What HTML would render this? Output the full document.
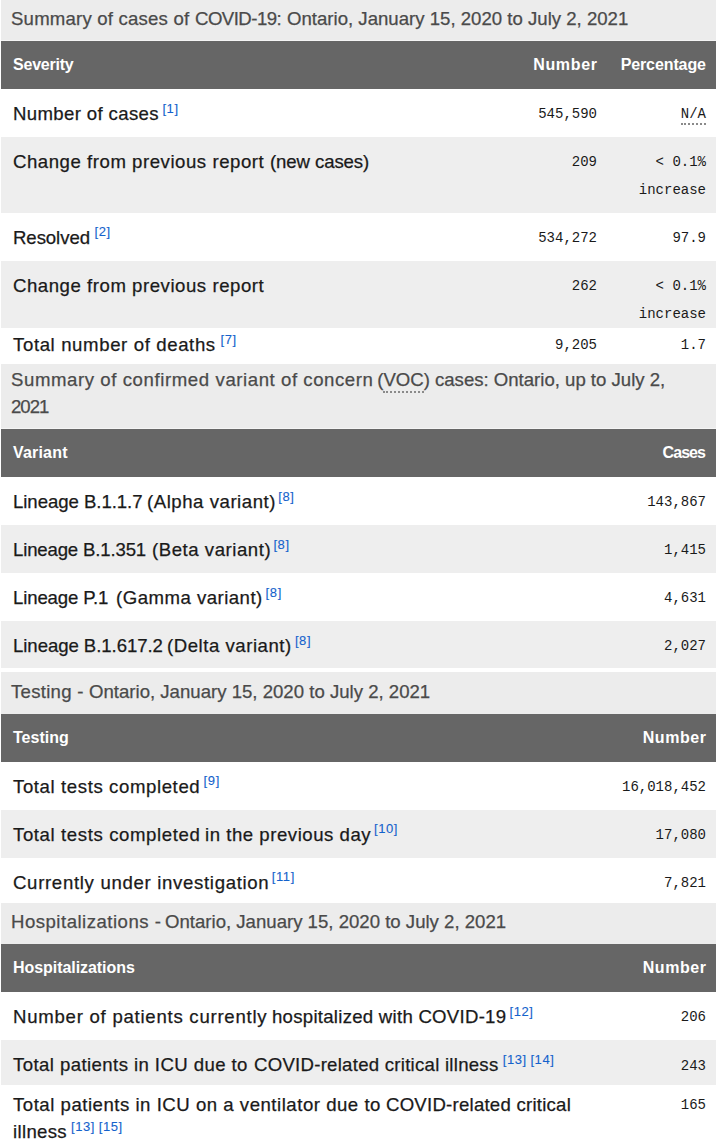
<!DOCTYPE html>
<html><head><meta charset="utf-8"><style>
html,body{margin:0;padding:0;background:#fff;}
body{width:716px;height:1147px;position:relative;overflow:hidden;font-family:"Liberation Sans", sans-serif;}
.t,.m,.s{position:absolute;white-space:pre;}
.t{-webkit-text-stroke:0.25px currentColor;}
.c{-webkit-text-stroke:0.25px currentColor;}
.h{-webkit-text-stroke:0.0px currentColor;}
.m{font-family:"Liberation Mono", monospace;color:#1a1a1a;-webkit-text-stroke:0.0px currentColor;}
.s{color:#1462cc;letter-spacing:0.6px;-webkit-text-stroke:0.1px currentColor;}
.abbr{border-bottom:2px dotted #8a8a8a;padding-bottom:1px;}
.abbr2{border-bottom:2px dotted #8a8a8a;padding-bottom:1px;}
</style></head><body>
<div style="position:absolute;left:1px;right:0;top:0px;height:40px;background:#ececec"></div>
<div style="position:absolute;left:1px;right:0;top:40px;height:1px;background:#f5f5f5"></div>
<div style="position:absolute;left:1px;right:0;top:41px;height:48px;background:#666666"></div>
<div style="position:absolute;left:1px;right:0;top:89px;height:48px;background:#fff"></div>
<div style="position:absolute;left:1px;right:0;top:137px;height:76px;background:#eeeeee"></div>
<div style="position:absolute;left:1px;right:0;top:213px;height:48px;background:#fff"></div>
<div style="position:absolute;left:1px;right:0;top:261px;height:67px;background:#eeeeee"></div>
<div style="position:absolute;left:1px;right:0;top:328px;height:36px;background:#fff"></div>
<div style="position:absolute;left:1px;right:0;top:364px;height:64px;background:#ececec"></div>
<div style="position:absolute;left:1px;right:0;top:428px;height:1px;background:#f5f5f5"></div>
<div style="position:absolute;left:1px;right:0;top:429px;height:48px;background:#666666"></div>
<div style="position:absolute;left:1px;right:0;top:477px;height:48px;background:#fff"></div>
<div style="position:absolute;left:1px;right:0;top:525px;height:48px;background:#eeeeee"></div>
<div style="position:absolute;left:1px;right:0;top:573px;height:48px;background:#fff"></div>
<div style="position:absolute;left:1px;right:0;top:621px;height:47px;background:#eeeeee"></div>
<div style="position:absolute;left:1px;right:0;top:672px;height:42px;background:#ececec"></div>
<div style="position:absolute;left:1px;right:0;top:714px;height:48px;background:#666666"></div>
<div style="position:absolute;left:1px;right:0;top:762px;height:48px;background:#fff"></div>
<div style="position:absolute;left:1px;right:0;top:810px;height:48px;background:#eeeeee"></div>
<div style="position:absolute;left:1px;right:0;top:858px;height:45px;background:#fff"></div>
<div style="position:absolute;left:1px;right:0;top:903px;height:41px;background:#ececec"></div>
<div style="position:absolute;left:1px;right:0;top:944px;height:48px;background:#666666"></div>
<div style="position:absolute;left:1px;right:0;top:992px;height:48px;background:#fff"></div>
<div style="position:absolute;left:1px;right:0;top:1040px;height:45px;background:#eeeeee"></div>
<div style="position:absolute;left:1px;right:0;top:1085px;height:62px;background:#fff"></div>
<div class="t c" style="left:11.000px;top:5.16px;font-size:18.6px;line-height:27px;color:#4a4a4a;letter-spacing:0.196px">Summary of cases of</div>
<div class="t c" style="left:195.000px;top:5.16px;font-size:18.6px;line-height:27px;color:#4a4a4a;letter-spacing:-0.525px">COVID-19:</div>
<div class="t c" style="left:287.000px;top:5.16px;font-size:18.6px;line-height:27px;color:#4a4a4a;letter-spacing:0.005px">Ontario, January 15, 2020 to July 2, 2021</div>
<div class="t h" style="left:13.000px;top:51.16px;font-size:16.0px;line-height:27px;color:#fff;font-weight:bold;letter-spacing:-0.214px">Severity</div>
<div class="t h" style="right:118.320px;top:51.16px;font-size:16.0px;line-height:27px;color:#fff;font-weight:bold;letter-spacing:0.680px">Number</div>
<div class="t h" style="right:10.100px;top:51.16px;font-size:16.0px;line-height:27px;color:#fff;font-weight:bold;letter-spacing:-0.100px">Percentage</div>
<div class="t" style="left:13.000px;top:100.06px;font-size:18.6px;line-height:27px;color:#1a1a1a;letter-spacing:0.357px">Number of cases</div>
<div class="t" style="left:13.000px;top:147.76px;font-size:18.6px;line-height:27px;color:#1a1a1a;letter-spacing:0.538px">Change from previous report</div>
<div class="t" style="left:270.000px;top:147.76px;font-size:18.6px;line-height:27px;color:#1a1a1a;letter-spacing:-0.100px">(new cases)</div>
<div class="t" style="left:13.000px;top:223.81px;font-size:18.6px;line-height:27px;color:#1a1a1a;letter-spacing:-0.071px">Resolved</div>
<div class="t" style="left:13.000px;top:271.66px;font-size:18.6px;line-height:27px;color:#1a1a1a;letter-spacing:0.538px">Change from previous report</div>
<div class="t" style="left:13.000px;top:331.06px;font-size:18.6px;line-height:27px;color:#1a1a1a;letter-spacing:0.619px">Total number of deaths</div>
<div class="t c" style="left:11.000px;top:365.76px;font-size:18.6px;line-height:27px;color:#4a4a4a;letter-spacing:0.578px">Summary of confirmed</div>
<div class="t c" style="left:215.600px;top:365.76px;font-size:18.6px;line-height:27px;color:#4a4a4a;letter-spacing:0.553px">variant of concern</div>
<div class="t c" style="left:377.200px;top:365.76px;font-size:18.6px;line-height:27px;color:#4a4a4a;letter-spacing:-0.009px">(<span class="abbr2">VOC</span>) cases: Ontario, up to July 2,</div>
<div class="t c" style="left:11.000px;top:393.06px;font-size:18.6px;line-height:27px;color:#4a4a4a;letter-spacing:-1.000px">2021</div>
<div class="t h" style="left:13.000px;top:439.06px;font-size:16.0px;line-height:27px;color:#fff;font-weight:bold;letter-spacing:0.183px">Variant</div>
<div class="t h" style="right:10.925px;top:439.06px;font-size:16.0px;line-height:27px;color:#fff;font-weight:bold;letter-spacing:-0.925px">Cases</div>
<div class="t" style="left:13.000px;top:488.26px;font-size:18.6px;line-height:27px;color:#1a1a1a;letter-spacing:-0.050px">Lineage B.1.1.7</div>
<div class="t" style="left:147.000px;top:488.26px;font-size:18.6px;line-height:27px;color:#1a1a1a;letter-spacing:0.536px">(Alpha variant)</div>
<div class="t" style="left:13.000px;top:536.26px;font-size:18.6px;line-height:27px;color:#1a1a1a;letter-spacing:-0.164px">Lineage B.1.351</div>
<div class="t" style="left:152.000px;top:536.26px;font-size:18.6px;line-height:27px;color:#1a1a1a;letter-spacing:0.538px">(Beta variant)</div>
<div class="t" style="left:13.000px;top:584.26px;font-size:18.6px;line-height:27px;color:#1a1a1a;letter-spacing:-0.140px">Lineage P.1</div>
<div class="t" style="left:116.000px;top:584.26px;font-size:18.6px;line-height:27px;color:#1a1a1a;letter-spacing:0.486px">(Gamma variant)</div>
<div class="t" style="left:13.000px;top:632.26px;font-size:18.6px;line-height:27px;color:#1a1a1a;letter-spacing:-0.062px">Lineage B.1.617.2</div>
<div class="t" style="left:167.000px;top:632.26px;font-size:18.6px;line-height:27px;color:#1a1a1a;letter-spacing:0.529px">(Delta variant)</div>
<div class="t c" style="left:11.000px;top:678.06px;font-size:18.6px;line-height:27px;color:#4a4a4a;letter-spacing:0.273px">Testing -</div>
<div class="t c" style="left:89.000px;top:678.06px;font-size:18.6px;line-height:27px;color:#4a4a4a;letter-spacing:0.002px">Ontario, January 15, 2020 to July 2, 2021</div>
<div class="t h" style="left:13.000px;top:724.06px;font-size:16.0px;line-height:27px;color:#fff;font-weight:bold;letter-spacing:0.000px">Testing</div>
<div class="t h" style="right:9.440px;top:724.06px;font-size:16.0px;line-height:27px;color:#fff;font-weight:bold;letter-spacing:0.560px">Number</div>
<div class="t" style="left:13.000px;top:772.76px;font-size:18.6px;line-height:27px;color:#1a1a1a;letter-spacing:0.600px">Total tests completed</div>
<div class="t" style="left:13.000px;top:820.66px;font-size:18.6px;line-height:27px;color:#1a1a1a;letter-spacing:0.605px">Total tests completed</div>
<div class="t" style="left:205.000px;top:820.66px;font-size:18.6px;line-height:27px;color:#1a1a1a;letter-spacing:0.528px">in the previous day</div>
<div class="t" style="left:13.000px;top:868.66px;font-size:18.6px;line-height:27px;color:#1a1a1a;letter-spacing:0.679px">Currently under investigation</div>
<div class="t c" style="left:11.000px;top:908.06px;font-size:18.6px;line-height:27px;color:#4a4a4a;letter-spacing:0.489px">Hospitalizations -</div>
<div class="t c" style="left:165.000px;top:908.06px;font-size:18.6px;line-height:27px;color:#4a4a4a;letter-spacing:0.000px">Ontario, January 15, 2020 to July 2, 2021</div>
<div class="t h" style="left:13.000px;top:954.06px;font-size:16.0px;line-height:27px;color:#fff;font-weight:bold;letter-spacing:-0.060px">Hospitalizations</div>
<div class="t h" style="right:9.440px;top:954.06px;font-size:16.0px;line-height:27px;color:#fff;font-weight:bold;letter-spacing:0.560px">Number</div>
<div class="t" style="left:13.000px;top:1003.26px;font-size:18.6px;line-height:27px;color:#1a1a1a;letter-spacing:0.741px">Number of patients currently</div>
<div class="t" style="left:272.000px;top:1003.26px;font-size:18.6px;line-height:27px;color:#1a1a1a;letter-spacing:0.268px">hospitalized with COVID-19</div>
<div class="t" style="left:13.000px;top:1051.36px;font-size:18.6px;line-height:27px;color:#1a1a1a;letter-spacing:0.415px">Total patients in ICU due to</div>
<div class="t" style="left:254.000px;top:1051.36px;font-size:18.6px;line-height:27px;color:#1a1a1a;letter-spacing:0.262px">COVID-related critical illness</div>
<div class="t" style="left:13.000px;top:1090.66px;font-size:18.6px;line-height:27px;color:#1a1a1a;letter-spacing:0.516px">Total patients in ICU on a ventilator due to</div>
<div class="t" style="left:386.000px;top:1090.66px;font-size:18.6px;line-height:27px;color:#1a1a1a;letter-spacing:0.238px">COVID-related critical</div>
<div class="t" style="left:13.000px;top:1118.06px;font-size:18.6px;line-height:27px;color:#1a1a1a;letter-spacing:0.333px">illness</div>
<div class="s" style="left:162.4px;top:98.50px;font-size:13.0px;line-height:20px">[1]</div>
<div class="m" style="right:119px;top:104.27px;font-size:14.0px;line-height:20px">545,590</div>
<div class="m" style="right:10px;top:104.27px;font-size:14.0px;line-height:20px"><span class="abbr">N/A</span></div>
<div class="m" style="right:119px;top:151.97px;font-size:14.0px;line-height:20px">209</div>
<div class="m" style="right:10px;top:151.97px;font-size:14.0px;line-height:20px">&lt; 0.1%</div>
<div class="m" style="right:10px;top:179.97px;font-size:14.0px;line-height:20px">increase</div>
<div class="s" style="left:94.5px;top:222.25px;font-size:13.0px;line-height:20px">[2]</div>
<div class="m" style="right:119px;top:228.02px;font-size:14.0px;line-height:20px">534,272</div>
<div class="m" style="right:10px;top:228.02px;font-size:14.0px;line-height:20px">97.9</div>
<div class="m" style="right:119px;top:275.87px;font-size:14.0px;line-height:20px">262</div>
<div class="m" style="right:10px;top:275.87px;font-size:14.0px;line-height:20px">&lt; 0.1%</div>
<div class="m" style="right:10px;top:303.87px;font-size:14.0px;line-height:20px">increase</div>
<div class="s" style="left:220.5px;top:329.50px;font-size:13.0px;line-height:20px">[7]</div>
<div class="m" style="right:119px;top:335.27px;font-size:14.0px;line-height:20px">9,205</div>
<div class="m" style="right:10px;top:335.27px;font-size:14.0px;line-height:20px">1.7</div>
<div class="s" style="left:278.3px;top:486.70px;font-size:13.0px;line-height:20px">[8]</div>
<div class="m" style="right:10px;top:492.47px;font-size:14.0px;line-height:20px">143,867</div>
<div class="s" style="left:273.4px;top:534.70px;font-size:13.0px;line-height:20px">[8]</div>
<div class="m" style="right:10px;top:540.47px;font-size:14.0px;line-height:20px">1,415</div>
<div class="s" style="left:265.6px;top:582.70px;font-size:13.0px;line-height:20px">[8]</div>
<div class="m" style="right:10px;top:588.47px;font-size:14.0px;line-height:20px">4,631</div>
<div class="s" style="left:294.9px;top:630.70px;font-size:13.0px;line-height:20px">[8]</div>
<div class="m" style="right:10px;top:636.47px;font-size:14.0px;line-height:20px">2,027</div>
<div class="s" style="left:203.6px;top:771.20px;font-size:13.0px;line-height:20px">[9]</div>
<div class="m" style="right:10px;top:776.97px;font-size:14.0px;line-height:20px">16,018,452</div>
<div class="s" style="left:374px;top:819.10px;font-size:13.0px;line-height:20px">[10]</div>
<div class="m" style="right:10px;top:824.87px;font-size:14.0px;line-height:20px">17,080</div>
<div class="s" style="left:271.8px;top:867.10px;font-size:13.0px;line-height:20px">[11]</div>
<div class="m" style="right:10px;top:872.87px;font-size:14.0px;line-height:20px">7,821</div>
<div class="s" style="left:509.5px;top:1001.70px;font-size:13.0px;line-height:20px">[12]</div>
<div class="m" style="right:10px;top:1007.47px;font-size:14.0px;line-height:20px">206</div>
<div class="s" style="left:502.7px;top:1049.80px;font-size:13.0px;line-height:20px">[13]</div>
<div class="s" style="left:530.4px;top:1049.80px;font-size:13.0px;line-height:20px">[14]</div>
<div class="m" style="right:10px;top:1055.57px;font-size:14.0px;line-height:20px">243</div>
<div class="s" style="left:71px;top:1116.50px;font-size:13.0px;line-height:20px">[13]</div>
<div class="s" style="left:98.7px;top:1116.50px;font-size:13.0px;line-height:20px">[15]</div>
<div class="m" style="right:10px;top:1094.87px;font-size:14.0px;line-height:20px">165</div>
</body></html>
